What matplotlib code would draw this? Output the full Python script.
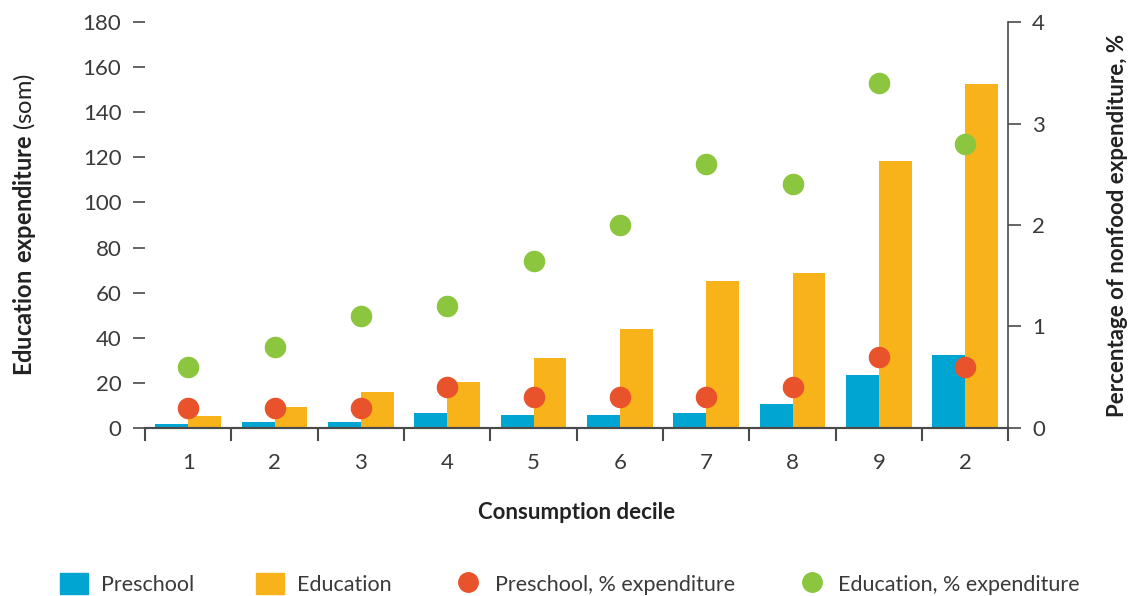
import matplotlib
matplotlib.use("Agg")
import matplotlib.pyplot as plt
import numpy as np
from matplotlib.lines import Line2D
from matplotlib.patches import Patch

plt.rcParams['font.family'] = ['Lato', 'DejaVu Sans']
plt.rcParams['mathtext.fontset'] = 'custom'
plt.rcParams['mathtext.rm'] = 'Lato'
plt.rcParams['mathtext.bf'] = 'Lato:bold'

# data
deciles = ['1', '2', '3', '4', '5', '6', '7', '8', '9', '2']
preschool = [1.8, 2.7, 2.7, 6.6, 5.8, 5.8, 6.8, 10.6, 23.5, 32.4]
education = [5.3, 9.3, 16, 20.4, 31, 43.9, 65.2, 68.7, 118.3, 152.5]
preschool_pct = [0.2, 0.2, 0.2, 0.4, 0.3, 0.3, 0.3, 0.4, 0.7, 0.6]
education_pct = [0.6, 0.8, 1.1, 1.2, 1.65, 2.0, 2.6, 2.4, 3.4, 2.8]

c_blue = '#00A5D2'
c_orange = '#F9B31A'
c_red = '#E9532B'
c_green = '#8CC63F'
c_axis = '#4a4a4a'
c_text = '#3a3a3a'

fig = plt.figure(figsize=(11.33, 5.96), dpi=100)
ax = fig.add_axes([0.128, 0.282, 0.762, 0.681])
ax2 = ax.twinx()

x = np.arange(len(deciles))
w = 0.38
ax.bar(x - w / 2, preschool, width=w, color=c_blue, zorder=2)
ax.bar(x + w / 2, education, width=w, color=c_orange, zorder=2)

ax2.plot(x, preschool_pct, 'o', color=c_red, markersize=14.5, zorder=3)
ax2.plot(x, education_pct, 'o', color=c_green, markersize=14.5, zorder=3)

ax.set_xlim(-0.5, 9.5)
ax.set_ylim(0, 180)
ax.set_yticks(range(0, 181, 20))
ax2.set_ylim(0, 4)
ax2.set_yticks(range(0, 5))

ax.set_xticks(x)
ax.set_xticklabels(deciles)
ax.set_xticks(np.arange(-0.5, 10, 1), minor=True)
ax.tick_params(axis='x', which='major', length=0, pad=18, labelsize=16, labelcolor=c_text)
ax.tick_params(axis='x', which='minor', length=9, width=1.5, color=c_axis)
ax.tick_params(axis='y', length=9, width=1.2, color=c_axis, pad=8, labelsize=16, labelcolor=c_text)
ax2.tick_params(axis='y', length=9, width=1.2, color=c_axis, pad=8, labelsize=16, labelcolor=c_text)

for a in (ax, ax2):
    a.spines['top'].set_visible(False)
    a.spines['left'].set_visible(False)
    a.spines['bottom'].set_color(c_axis)
    a.spines['bottom'].set_linewidth(1.5)
    a.spines['right'].set_color(c_axis)
    a.spines['right'].set_linewidth(1.2)
ax.spines['right'].set_visible(False)

ax.set_ylabel(r'$\mathbf{Education\ expenditure}$ (som)', fontsize=17, color='#222222', labelpad=32)
ax2.set_ylabel('Percentage of nonfood expenditure, %', fontsize=16, fontweight='bold',
               color='#222222', labelpad=45)
ax.set_xlabel('Consumption decile', fontsize=16, fontweight='bold', color='#222222', labelpad=21)

handles = [
    Patch(color=c_blue, label='Preschool'),
    Patch(color=c_orange, label='Education'),
    Line2D([], [], marker='o', linestyle='', color=c_red, markersize=14, label='Preschool, % expenditure'),
    Line2D([], [], marker='o', linestyle='', color=c_green, markersize=14, label='Education, % expenditure'),
]
fig.legend(handles=handles, loc='lower center', bbox_to_anchor=(0.503, -0.03), ncol=4,
           frameon=False, fontsize=15.5, handlelength=1.3, handleheight=1.1,
           columnspacing=2.9, handletextpad=0.6, labelcolor=c_text)

fig.savefig('out.png', dpi=100)
